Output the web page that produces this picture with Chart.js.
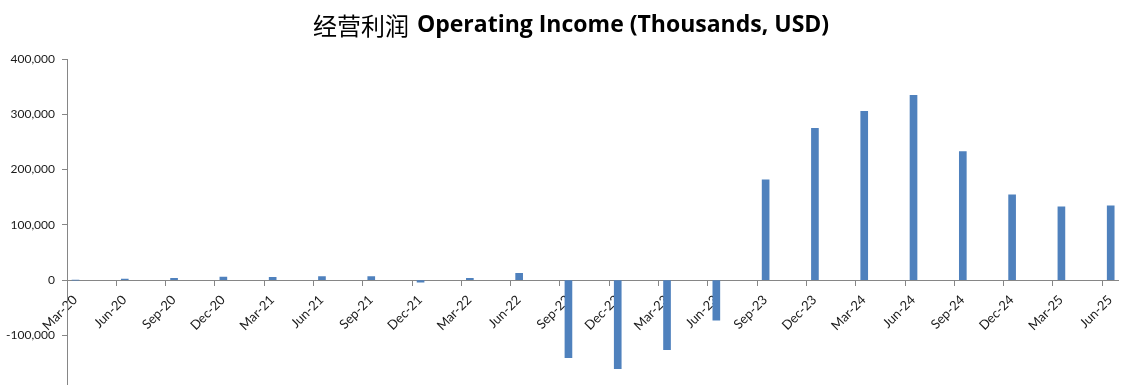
<!DOCTYPE html>
<html>
<head>
<meta charset="utf-8">
<script src="https://cdn.jsdelivr.net/npm/chart.js@4.4.0/dist/chart.umd.min.js"></script>
<style>
  html, body { margin: 0; padding: 0; background: #fff; overflow: hidden; }
  #wrap { width: 1139px; height: 405px; position: relative; }
</style>
</head>
<body>
<div id="wrap"><canvas id="c"></canvas></div>
<script>
const categories = ['Mar-20','Jun-20','Sep-20','Dec-20','Mar-21','Jun-21','Sep-21','Dec-21','Mar-22','Jun-22','Sep-22','Dec-22','Mar-23','Jun-23','Sep-23','Dec-23','Mar-24','Jun-24','Sep-24','Dec-24','Mar-25','Jun-25'];
const operatingIncome = [0, 2000, 3500, 5500, 5000, 6500, 6500, -3500, 3500, 12500, -140000, -160000, -125500, -72500, 181500, 274500, 305500, 334500, 232500, 154500, 132500, 134500];
const yTicks = [-200000, -100000, 0, 100000, 200000, 300000, 400000];
const titleCN = '经营利润';
const titleEN = 'Operating Income (Thousands, USD)';

const tickShift = 0.172;

const titlePlugin = {
  id: 'mixedTitle',
  afterDraw(chart) {
    const ctx = chart.ctx;
    ctx.save();
    const cnFont = '400 24px "Noto Sans CJK SC"';
    const enFont = 'bold 23px "Open Sans"';
    ctx.font = cnFont; const w1 = ctx.measureText(titleCN).width + 8;
    ctx.font = enFont; const w2 = ctx.measureText(titleEN).width;
    let x = 571 - (w1 + w2) / 2;
    const y = 25;
    ctx.textBaseline = 'middle';
    ctx.textAlign = 'left';
    ctx.fillStyle = '#000';
    ctx.font = cnFont; ctx.fillText(titleCN, x, y + 1);
    ctx.font = enFont; ctx.fillText(titleEN, x + w1, y);
    ctx.restore();
  }
};

new Chart(document.getElementById('c'), {
  type: 'bar',
  data: {
    datasets: [{
      data: operatingIncome.map((v, i) => ({ x: i, y: v })),
      backgroundColor: '#4F81BD',
      borderWidth: 0,
      barThickness: 7
    }]
  },
  options: {
    responsive: true,
    maintainAspectRatio: false,
    animation: false,
    layout: { padding: { top: 59, right: 21, bottom: 11, left: 0 } },
    plugins: { legend: { display: false }, tooltip: { enabled: false }, title: { display: false } },
    scales: {
      x: {
        type: 'linear',
        offset: false,
        position: { y: 0 },
        min: -tickShift,
        max: 21.32 - tickShift,
        afterBuildTicks(scale) {
          scale.ticks = categories.map((c, i) => ({ value: i - tickShift }));
        },
        grid: { offset: false, drawOnChartArea: false, drawTicks: true, tickLength: 5, color: '#868686' },
        border: { color: '#868686', width: 1 },
        ticks: {
          autoSkip: false,
          minRotation: 45,
          maxRotation: 45,
          padding: 7,
          labelOffset: 8,
          color: '#1a1a1a',
          font: { family: 'Lato', size: 13 },
          callback: (v, i) => categories[i]
        }
      },
      y: {
        min: -200000,
        max: 400000,
        afterBuildTicks(scale) {
          scale.ticks = yTicks.map(v => ({ value: v }));
        },
        afterFit(scale) { scale.width = 67; },
        grid: { drawOnChartArea: false, drawTicks: true, tickLength: 5, color: '#868686' },
        border: { color: '#868686', width: 1 },
        ticks: {
          padding: 7,
          color: '#1a1a1a',
          font: { family: 'Lato', size: 12 },
          callback: (v) => v === -200000 ? '' : v.toLocaleString('en-US')
        }
      }
    }
  },
  plugins: [titlePlugin]
});
</script>
</body>
</html>
